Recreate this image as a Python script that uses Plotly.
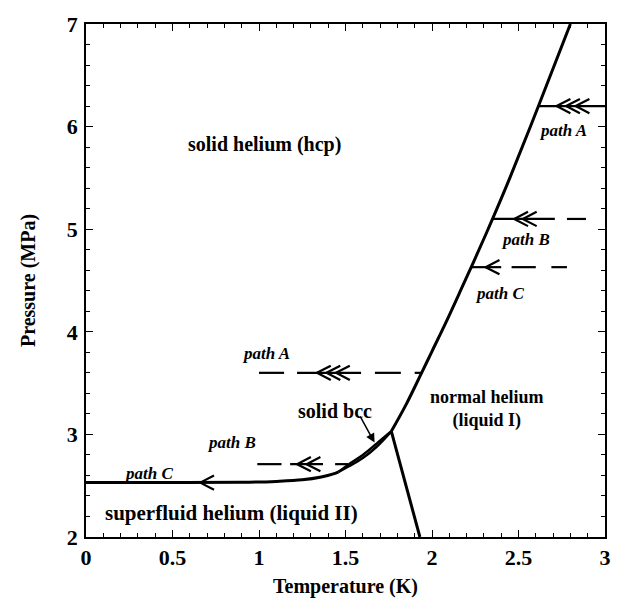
import numpy as np
import plotly.graph_objects as go

# ---- phase boundaries (T in K, P in MPa) ----
melt_T = [1.765, 1.85, 1.94, 2.00, 2.08, 2.17, 2.24, 2.35, 2.45, 2.62, 2.80]
melt_P = [3.03, 3.29, 3.60, 3.81, 4.09, 4.42, 4.68, 5.10, 5.50, 6.22, 7.00]

low_T = [0.0, 0.5, 0.9, 1.1, 1.25, 1.36, 1.43, 1.46]
low_P = [2.53, 2.53, 2.533, 2.542, 2.557, 2.585, 2.615, 2.635]

bcc_up_T = [1.46, 1.52, 1.60, 1.68, 1.765]
bcc_up_P = [2.635, 2.71, 2.80, 2.91, 3.03]
bcc_lo_T = [1.46, 1.52, 1.60, 1.68, 1.765]
bcc_lo_P = [2.635, 2.69, 2.77, 2.88, 3.03]

lambda_T = [1.765, 1.93]
lambda_P = [3.03, 2.00]

# ---- paths (pressure, drawn segments as [T_start, T_end], chevron tips) ----
pathA_hi_P = 6.2
pathA_hi_seg = [[None, 3.0]]
pathA_hi_tips = [2.72, 2.775, 2.83]

pathB_hi_P = 5.1
pathB_hi_seg = [[None, 2.71], [2.78, 2.89]]
pathB_hi_tips = [2.475, 2.525]

pathC_hi_P = 4.63
pathC_hi_seg = [[None, 2.40], [2.46, 2.60], [2.69, 2.78]]
pathC_hi_tips = [2.31]

pathA_lo_P = 3.6
pathA_lo_seg = [[1.0, 1.145], [1.22, 1.59], [1.67, 1.82], [1.90, None]]
pathA_lo_tips = [1.335, 1.39, 1.445]

pathB_lo_P = 2.71
pathB_lo_seg = [[0.99, 1.13], [1.18, 1.37], [1.44, 1.515]]
pathB_lo_tips = [1.22, 1.275]

pathC_lo_P = 2.53
pathC_lo_tips = [0.66]

CH_W = 0.08    # chevron length (K)
CH_H = 0.07    # chevron half height (MPa)

fig = go.Figure()

def line(x, y, w, shape="spline"):
    fig.add_trace(go.Scatter(x=x, y=y, mode="lines", showlegend=False, hoverinfo="skip",
                             line=dict(color="black", width=w, shape=shape)))

line(melt_T, melt_P, 3)
line(low_T, low_P, 3)
line(bcc_up_T, bcc_up_P, 2.5)
line(bcc_lo_T, bcc_lo_P, 2.5)
line(lambda_T, lambda_P, 3, "linear")

curve_at = lambda p: float(np.interp(p, melt_P, melt_T))

def path(P, segs, tips):
    xs, ys = [], []
    for a, b in segs:
        a = curve_at(P) if a is None else a
        b = curve_at(P) if b is None else b
        xs += [a, b, None]
        ys += [P, P, None]
    for t in tips:
        xs += [t + CH_W, t, t + CH_W, None]
        ys += [P + CH_H, P, P - CH_H, None]
    fig.add_trace(go.Scatter(x=xs, y=ys, mode="lines", showlegend=False, hoverinfo="skip",
                             line=dict(color="black", width=2.2)))

path(pathA_hi_P, pathA_hi_seg, pathA_hi_tips)
path(pathB_hi_P, pathB_hi_seg, pathB_hi_tips)
path(pathC_hi_P, pathC_hi_seg, pathC_hi_tips)
path(pathA_lo_P, pathA_lo_seg, pathA_lo_tips)
path(pathB_lo_P, pathB_lo_seg, pathB_lo_tips)
path(pathC_lo_P, [], pathC_lo_tips)

SERIF = "Liberation Serif"
region_labels = [
    ("solid helium (hcp)", 1.03, 5.83, 20),
    ("normal helium<br>(liquid I)", 2.32, 3.25, 18),
    ("solid bcc", 1.44, 3.23, 20),
    ("superfluid helium (liquid II)", 0.84, 2.23, 21),
]
for txt, x, y, s in region_labels:
    fig.add_annotation(x=x, y=y, text=txt, showarrow=False,
                       font=dict(family=SERIF, size=s, color="black", weight="bold"))

path_labels = [
    ("path A", 2.76, 5.96), ("path B", 2.54, 4.90), ("path C", 2.39, 4.37),
    ("path A", 1.04, 3.79), ("path B", 0.84, 2.92), ("path C", 0.36, 2.62),
]
for txt, x, y in path_labels:
    fig.add_annotation(x=x, y=y, text=txt, showarrow=False,
                       font=dict(family=SERIF, size=17, color="black", weight="bold", style="italic"))

fig.add_annotation(x=1.668, y=2.92, ax=1.58, ay=3.19, axref="x", ayref="y", text="",
                   showarrow=True, arrowhead=2, arrowsize=1.2, arrowwidth=1.5, arrowcolor="black")

axis_common = dict(showline=True, linecolor="black", linewidth=1.5, mirror="ticks",
                   ticks="inside", ticklen=7, tickwidth=1.2, tickcolor="black",
                   showgrid=False, zeroline=False,
                   tickfont=dict(family=SERIF, size=22, color="black", weight="bold"))

fig.update_xaxes(range=[0, 3], dtick=0.5, tick0=0,
                 minor=dict(dtick=0.1, ticks="inside", ticklen=4, tickcolor="black", tickwidth=1),
                 title=dict(text="Temperature (K)", standoff=10,
                            font=dict(family=SERIF, size=20, color="black", weight="bold")),
                 **axis_common)
fig.update_yaxes(range=[2, 7], dtick=1, tick0=0, ticklabelstandoff=2,
                 minor=dict(dtick=0.2, ticks="inside", ticklen=4, tickcolor="black", tickwidth=1),
                 title=dict(text="Pressure (MPa)", standoff=26,
                            font=dict(family=SERIF, size=20, color="black", weight="bold")),
                 **axis_common)

fig.update_layout(width=623, height=606, margin=dict(l=86, r=17, t=19, b=65),
                  plot_bgcolor="white", paper_bgcolor="white")

fig.write_html("out.html")
